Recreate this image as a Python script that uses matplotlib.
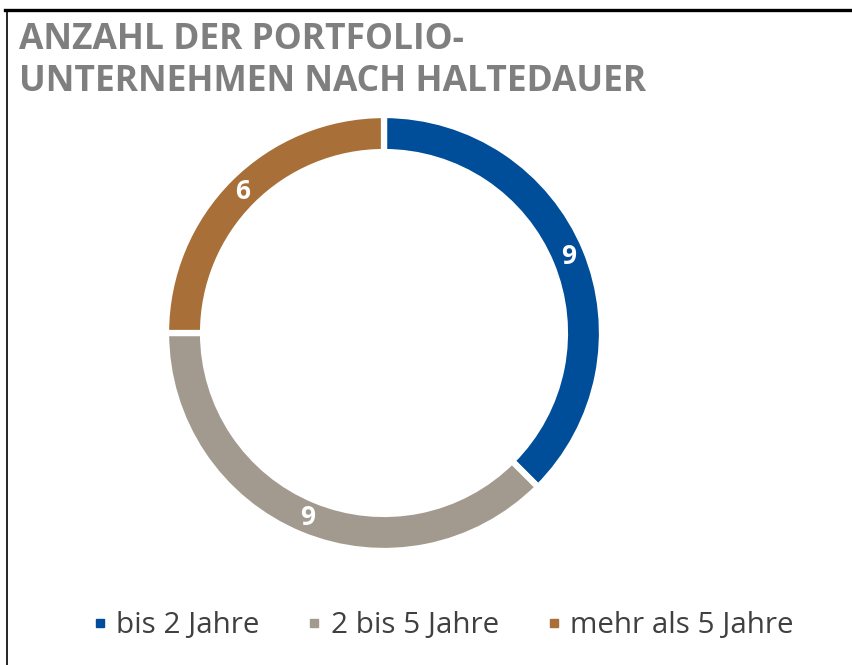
import matplotlib
matplotlib.use("Agg")
import matplotlib.pyplot as plt
from matplotlib.lines import Line2D
import numpy as np

#######################################################
# DATA

categories = ["bis 2 Jahre", "2 bis 5 Jahre", "mehr als 5 Jahre"]
values = [9, 9, 6]
colors = ["#004D99", "#A29A8E", "#A86F38"]

title = "ANZAHL DER PORTFOLIO-\nUNTERNEHMEN NACH HALTEDAUER"

TITLE_FONT = ["Open Sans", "DejaVu Sans"]
TEXT_FONT = ["Open Sans", "DejaVu Sans"]

#######################################################
# FIGURE

W, H = 852, 665
fig = plt.figure(figsize=(W / 100, H / 100), dpi=100)
fig.patch.set_facecolor("white")

# pie axes: centre (384, 333) px, outer radius 218 px
cx, cy, r = 384, 333, 218
ax = fig.add_axes([
    (cx - r) / W,
    (H - cy - r) / H,
    2 * r / W,
    2 * r / H
])

wedges, _ = ax.pie(
    values,
    colors=colors,
    startangle=90,
    counterclock=False,
    radius=1,
    wedgeprops=dict(width=0.17, edgecolor="white", linewidth=4.5)
)

# value labels in the middle of the ring
total = sum(values)
start = 90
for v in values:
    mid = np.deg2rad(start - 360 * v / total / 2)
    ax.text(
        0.915 * np.cos(mid),
        0.915 * np.sin(mid),
        str(v),
        ha="center",
        va="center",
        color="white",
        fontsize=19,
        fontweight="bold",
        family=["Open Sans", "DejaVu Sans"]
    )
    start -= 360 * v / total

ax.set_xlim(-1, 1)
ax.set_ylim(-1, 1)
ax.set_aspect("equal")
ax.axis("off")

# title
fig.text(
    19 / W,
    1 - 22 / H,
    title,
    ha="left",
    va="top",
    fontsize=25.5,
    fontweight="bold",
    color="#7F7F7F",
    family=TITLE_FONT,
    linespacing=1.22
)

# legend
handles = [
    Line2D([0], [0], marker="s", linestyle="none",
           markersize=6, markerfacecolor=c, markeredgecolor=c)
    for c in colors
]
fig.legend(
    handles,
    categories,
    loc="center",
    bbox_to_anchor=(443 / W, 1 - 626 / H),
    ncol=3,
    frameon=False,
    handlelength=0.5,
    handletextpad=0.3,
    columnspacing=1.6,
    prop=dict(family=TEXT_FONT, size=21.3),
    labelcolor="#404040"
)

# frame lines (top and left only)
fig.add_artist(Line2D([5 / W, 1], [1 - 10 / H, 1 - 10 / H],
                      transform=fig.transFigure, color="black", linewidth=2.4))
fig.add_artist(Line2D([7 / W, 7 / W], [0, 1 - 10 / H],
                      transform=fig.transFigure, color="black", linewidth=1.2))

plt.savefig("out.png", dpi=100)
plt.close()
